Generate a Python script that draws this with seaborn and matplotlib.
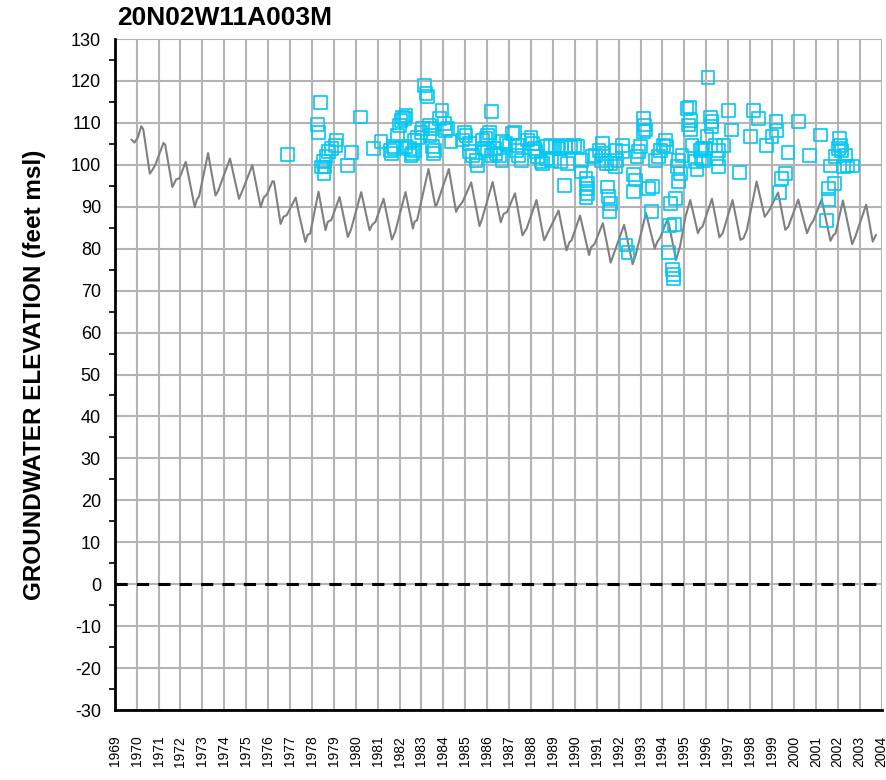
import numpy as np
import pandas as pd
import seaborn as sns
import matplotlib.pyplot as plt
from matplotlib.ticker import MultipleLocator

# simulated groundwater elevation (turning points)
sim_year = [1969.76, 1969.9, 1970.05, 1970.21, 1970.3, 1970.6, 1970.72, 1970.85, 1971.22, 1971.3,
            1971.63, 1971.8, 1971.95, 1972.24, 1972.65, 1972.75, 1972.85, 1973.26, 1973.6, 1973.72,
            1974.26, 1974.67, 1974.8, 1975.28, 1975.66, 1975.8, 1975.95, 1976.2, 1976.27, 1976.57,
            1976.7, 1976.85, 1977.26, 1977.4, 1977.7, 1977.8, 1977.92, 1978.3, 1978.62, 1978.72,
            1978.88, 1979.26, 1979.64, 1979.78, 1980.25, 1980.63, 1980.75, 1980.9, 1981.27, 1981.65,
            1981.8, 1982.27, 1982.61, 1982.68, 1982.8, 1983.32, 1983.63, 1983.7, 1984.25, 1984.58,
            1984.7, 1984.88, 1985.27, 1985.65, 1985.77, 1986.25, 1986.62, 1986.75, 1986.9, 1987.27,
            1987.61, 1987.8, 1988.25, 1988.6, 1988.75, 1989.26, 1989.62, 1989.75, 1989.85, 1990.24,
            1990.65, 1990.75, 1990.9, 1991.28, 1991.64, 1991.78, 1992.25, 1992.64, 1992.78, 1993.25,
            1993.65, 1993.75, 1993.9, 1994.23, 1994.3, 1994.62, 1994.8, 1995.05, 1995.27, 1995.62,
            1995.72, 1995.83, 1996.26, 1996.6, 1996.75, 1997.2, 1997.56, 1997.7, 1997.85, 1998.3,
            1998.67, 1998.78, 1998.92, 1999.28, 1999.61, 1999.75, 2000.2, 2000.6, 2000.75, 2000.9,
            2001.27, 2001.67, 2001.8, 2001.9, 2002.24, 2002.66, 2002.8, 2003.3, 2003.6, 2003.75]
sim_elev = [106.0, 105.3, 106.5, 109.2, 108.5, 97.9, 98.8, 100.0, 105.2, 104.8,
            94.7, 96.5, 96.8, 100.7, 89.9, 91.7, 92.5, 102.8, 92.7, 93.8,
            101.5, 91.9, 93.5, 99.9, 89.9, 92.2, 93.0, 96.1, 96.0, 85.9,
            87.6, 88.0, 92.2, 88.5, 81.6, 83.3, 83.6, 93.6, 84.4, 86.4,
            86.8, 92.3, 82.8, 84.5, 93.5, 84.4, 85.7, 86.4, 91.9, 82.2,
            84.0, 93.5, 84.8, 86.4, 86.8, 99.0, 90.2, 90.5, 99.0, 88.8,
            90.0, 91.2, 95.8, 85.4, 87.2, 95.9, 86.3, 88.3, 88.7, 93.2,
            83.2, 84.8, 91.6, 82.0, 83.6, 89.1, 79.6, 81.5, 82.0, 87.9,
            78.5, 80.4, 81.1, 86.1, 76.7, 78.8, 85.7, 76.3, 78.5, 88.5,
            80.0, 81.5, 82.7, 87.0, 85.8, 77.3, 80.5, 87.6, 91.6, 83.7,
            84.8, 85.3, 91.9, 82.7, 83.7, 91.6, 82.1, 82.5, 84.4, 96.0,
            87.6, 88.4, 89.6, 93.4, 84.5, 85.3, 91.7, 83.7, 85.6, 86.8,
            91.8, 81.9, 83.2, 83.6, 91.5, 81.1, 82.8, 90.5, 81.7, 83.3]

# observed groundwater elevation
obs_year = [1976.89, 1978.25, 1978.29, 1978.38, 1978.45, 1978.52, 1978.55, 1978.6, 1978.64, 1978.75,
            1978.9, 1979.07, 1979.13, 1979.63, 1979.82, 1980.23, 1980.8, 1981.15, 1981.6, 1981.64,
            1981.7, 1981.76, 1981.91, 1981.99, 1982.07, 1982.14, 1982.22, 1982.29, 1982.29, 1982.45,
            1982.52, 1982.6, 1982.67, 1982.67, 1982.83, 1982.98, 1983.05, 1983.13, 1983.21, 1983.28,
            1983.36, 1983.44, 1983.39, 1983.51, 1983.59, 1983.55, 1983.82, 1983.94, 1984.04, 1984.09,
            1984.2, 1984.35, 1984.88, 1984.96, 1985.03, 1985.19, 1985.2, 1985.34, 1985.49, 1985.57,
            1985.8, 1985.87, 1985.95, 1986.02, 1986.02, 1986.1, 1986.18, 1986.17, 1986.33, 1986.4,
            1986.56, 1986.68, 1986.71, 1986.86, 1987.01, 1987.17, 1987.24, 1987.32, 1987.39, 1987.44,
            1987.55, 1987.85, 1988.0, 1988.08, 1988.15, 1988.23, 1988.31, 1988.46, 1988.53, 1988.69,
            1988.9, 1989.1, 1989.28, 1989.4, 1989.56, 1989.8, 1990.0, 1990.15, 1988.7, 1988.95,
            1989.35, 1989.65, 1989.54, 1990.28, 1990.51, 1990.59, 1990.54, 1990.59, 1990.51, 1990.3,
            1990.79, 1990.94, 1991.1, 1991.2, 1991.25, 1991.25, 1991.43, 1991.65, 1991.5, 1991.55,
            1991.63, 1991.6, 1991.88, 1991.93, 1991.85, 1992.16, 1992.16, 1992.34, 1992.43, 1992.69,
            1992.77, 1992.69, 1992.84, 1992.92, 1993.0, 1993.15, 1993.19, 1993.22, 1993.15, 1993.37,
            1993.53, 1993.5, 1993.68, 1993.83, 1993.9, 1994.06, 1994.13, 1994.2, 1994.36, 1994.59,
            1994.33, 1994.56, 1994.29, 1994.47, 1994.51, 1994.51, 1994.67, 1994.74, 1994.74, 1994.82,
            1994.89, 1995.12, 1995.23, 1995.27, 1995.2, 1995.27, 1995.35, 1995.5, 1995.58, 1995.73,
            1995.81, 1995.8, 1995.88, 1995.96, 1996.03, 1996.08, 1996.19, 1996.23, 1996.26, 1996.41,
            1996.49, 1996.57, 1996.57, 1996.8, 1997.02, 1997.14, 1997.51, 1998.01, 1998.16, 1998.39,
            1998.74, 1999.0, 1999.18, 1999.22, 1999.33, 1999.45, 1999.6, 1999.73, 2000.21, 2000.73,
            2001.2, 2001.5, 2001.58, 2001.58, 2001.66, 2001.85, 2001.88, 2002.04, 2002.07, 2002.11,
            2002.19, 2002.34, 2002.27, 2002.46, 2002.67]
obs_elev = [102.5, 109.7, 107.8, 114.8, 99.5, 100.7, 98.0, 99.5, 101.9, 103.1,
            103.9, 104.7, 105.9, 99.9, 102.9, 111.4, 103.8, 105.6, 103.5, 102.7,
            104.3, 103.9, 107.0, 109.4, 110.6, 111.4, 111.0, 111.8, 104.3, 103.9,
            102.3, 102.7, 103.5, 105.9, 106.6, 107.8, 108.6, 119.0, 117.0, 116.2,
            109.4, 108.6, 107.0, 104.3, 103.5, 102.7, 111.0, 113.0, 109.8, 108.2,
            108.6, 105.5, 105.9, 107.8, 107.0, 105.1, 103.1, 102.3, 101.1, 99.9,
            105.9, 103.9, 106.2, 107.0, 103.5, 107.8, 112.8, 102.3, 103.9, 102.7,
            102.3, 101.1, 105.5, 105.1, 104.7, 107.4, 107.8, 103.5, 104.7, 102.3,
            101.1, 105.9, 106.6, 105.1, 103.9, 103.1, 101.9, 100.7, 100.3, 104.3,
            104.7, 104.3, 103.9, 104.7, 104.3, 104.1, 104.7, 104.3, 101.5, 101.1,
            100.7, 100.3, 95.0, 98.3, 96.7, 95.5, 94.3, 93.1, 92.3, 101.1,
            101.9, 102.3, 103.5, 101.1, 102.7, 105.1, 100.3, 100.3, 94.7, 92.4,
            90.8, 88.9, 103.5, 101.1, 99.6, 104.7, 103.1, 80.9, 79.0, 93.6,
            96.4, 97.6, 101.9, 103.1, 104.3, 111.0, 109.5, 108.3, 107.9, 94.4,
            94.8, 88.9, 101.1, 101.9, 103.5, 104.7, 105.9, 104.3, 90.8, 92.0,
            85.5, 85.7, 79.1, 75.0, 73.8, 72.9, 99.6, 101.1, 96.0, 98.0,
            102.3, 113.4, 113.8, 110.6, 109.5, 108.3, 104.7, 100.7, 98.8, 103.5,
            103.9, 101.5, 101.1, 103.9, 106.7, 120.8, 111.4, 109.1, 110.3, 104.7,
            101.5, 103.5, 99.6, 104.7, 113.0, 108.3, 98.1, 106.7, 112.9, 111.0,
            104.7, 106.8, 110.3, 108.1, 93.4, 96.8, 98.0, 102.9, 110.3, 102.3,
            107.1, 86.7, 91.8, 94.4, 99.7, 95.6, 101.9, 103.9, 106.3, 104.7,
            103.5, 102.3, 99.6, 99.7, 99.7]

year_ticks = list(range(1969, 2005))
elev_ticks = list(range(-30, 131, 10))

sim = pd.DataFrame({"year": sim_year, "elev": sim_elev})
obs = pd.DataFrame({"year": obs_year, "elev": obs_elev})

sns.set_style("white")
plt.rcParams['font.family'] = ['Liberation Sans', 'DejaVu Sans']
plt.rcParams['text.color'] = 'black'
plt.rcParams['axes.labelcolor'] = 'black'
plt.rcParams['xtick.color'] = 'black'
plt.rcParams['ytick.color'] = 'black'

fig = plt.figure(figsize=(8.87, 7.8), dpi=100)
ax = fig.add_axes([0.1294, 0.0897, 0.8644, 0.8603])

grid_c = "#b4b4b4"
for yr in year_ticks:
    ax.axvline(yr, color=grid_c, lw=1.5, zorder=0)
for v in elev_ticks:
    ax.axhline(v, color=grid_c, lw=1.5, zorder=0)

sns.lineplot(data=sim, x="year", y="elev", ax=ax, color="#808080", lw=1.5,
             sort=False, estimator=None, zorder=2)
sns.scatterplot(data=obs, x="year", y="elev", ax=ax, marker="s", s=85,
                facecolor="none", edgecolor="#00c8f4", linewidth=1.2, zorder=3)

ax.axhline(0, color="black", lw=2.2, ls=(0, (4, 3)), zorder=4)

ax.set_xlim(1969, 2004)
ax.set_ylim(-30, 130)
ax.set_xticks(year_ticks)
ax.set_xticklabels([str(y) for y in year_ticks], rotation=90, fontsize=10)
ax.set_yticks(elev_ticks)
ax.set_yticklabels([str(v) for v in elev_ticks], fontsize=13)
ax.yaxis.set_minor_locator(MultipleLocator(5))
ax.tick_params(axis="x", which="major", direction="inout", length=9, width=1.5, pad=14)
ax.tick_params(axis="y", which="major", direction="out", length=7, width=1.5, pad=3)
ax.tick_params(axis="y", which="minor", direction="out", length=4, width=1.2, left=True)

for side in ["top", "right"]:
    ax.spines[side].set_visible(False)
for side in ["left", "bottom"]:
    ax.spines[side].set_linewidth(2)
    ax.spines[side].set_color("black")

ax.set_xlabel("")
ax.set_ylabel("GROUNDWATER ELEVATION (feet msl)", fontsize=17.5, fontweight="bold", labelpad=18)
fig.text(117 / 887, 1 - 18 / 780, "20N02W11A003M", fontsize=19, fontweight="bold",
         ha="left", va="center")

fig.savefig("out.png", dpi=100)
